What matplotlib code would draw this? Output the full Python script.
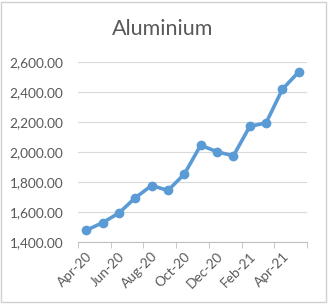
import matplotlib.pyplot as plt
from matplotlib.patches import Rectangle

# Precio mensual del aluminio
meses = ['Apr-20', 'May-20', 'Jun-20', 'Jul-20', 'Aug-20', 'Sep-20', 'Oct-20',
         'Nov-20', 'Dec-20', 'Jan-21', 'Feb-21', 'Mar-21', 'Apr-21', 'May-21']
precios = [1476, 1527, 1591, 1693, 1775, 1742, 1851,
           2044, 2000, 1973, 2169, 2193, 2418, 2533]

plt.rcParams['font.family'] = ['Lato', 'DejaVu Sans']
gris = '#595959'

fig = plt.figure(figsize=(3.28, 3.06), dpi=100)
ax = fig.add_axes([78/328, 0.21, 229/328, 0.588])

x = list(range(len(meses)))
ax.plot(x, precios, color='#5B9BD5', lw=2.6, marker='o', ms=6, solid_capstyle='round')

ax.set_xlim(-0.5, len(meses) - 0.5)
ax.set_ylim(1400, 2600)
ax.set_yticks(range(1400, 2601, 200))
ax.set_yticklabels([f'{v:,.2f}' for v in range(1400, 2601, 200)], color=gris, fontsize=9.8)
ax.yaxis.grid(True, color='#D9D9D9', lw=0.8)
ax.set_axisbelow(True)

ax.set_xticks(x[::2])
ax.set_xticklabels(meses[::2], rotation=45, ha='right', rotation_mode='anchor',
                   color=gris, fontsize=9.8)
ax.set_xticks([i - 0.5 for i in range(0, len(meses) + 1, 2)], minor=True)
ax.tick_params(axis='x', which='major', length=0, pad=6)
ax.tick_params(axis='x', which='minor', length=4, color='#BFBFBF', direction='out')
ax.tick_params(axis='y', length=0, pad=10.5)

for s in ['top', 'right', 'left']:
    ax.spines[s].set_visible(False)
ax.spines['bottom'].set_color('#BFBFBF')

fig.text(163/328, 1 - 29/306, 'Aluminium', ha='center', va='center',
         fontsize=15.5, color=gris)

fig.patches.append(Rectangle((0.004, 0.012), 0.99, 0.983, transform=fig.transFigure,
                             fill=False, ec='#D0D0D0', lw=1))

fig.savefig('out.png', dpi=100)
